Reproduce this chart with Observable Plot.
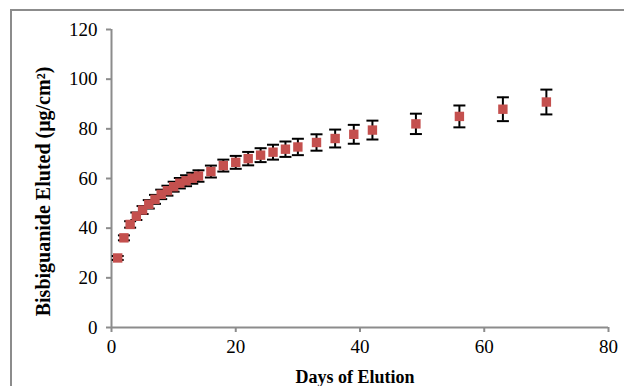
<!DOCTYPE html>
<html>
<head>
<meta charset="utf-8">
<script src="https://cdn.jsdelivr.net/npm/d3@7"></script>
<script src="https://cdn.jsdelivr.net/npm/@observablehq/plot@0.6"></script>
<style>
  html, body { margin: 0; padding: 0; background: #fff; }
  #wrap { position: relative; width: 624px; height: 386px; overflow: hidden; }
  #border { position: absolute; left: 10px; top: 9px; width: 640px; height: 400px;
            border-top: 2px solid #8c8c8c; border-left: 2px solid #8c8c8c; box-sizing: border-box; }
  #chart { position: absolute; left: 0; top: 0; }
</style>
</head>
<body>
<div id="wrap"><div id="border"></div><div id="chart"></div></div>
<script>
const days   = [1,2,3,4,5,6,7,8,9,10,11,12,13,14,16,18,20,22,24,26,28,30,33,36,39,42,49,56,63,70];
const eluted = [28.0,36.1,41.5,44.8,47.3,49.6,51.6,53.6,55.1,56.7,58.1,59.1,60.1,61.0,62.8,65.2,66.5,68.0,69.4,70.6,71.8,72.7,74.5,76.1,77.8,79.5,82.0,85.0,87.9,90.8];
const errors = [0.8,1.0,1.3,1.5,1.6,1.7,1.8,1.9,2.0,2.0,2.1,2.2,2.2,2.3,2.4,2.4,2.6,2.7,2.8,3.0,3.1,3.3,3.3,3.6,3.8,3.8,4.1,4.4,4.8,5.0];
const xTicks = [0,20,40,60,80];
const yTicks = [0,20,40,60,80,100,120];
const xTitle = "Days of Elution";
const yTitle = "Bisbiguanide Eluted (μg/cm²)";

const data = days.map((d, i) => ({day: d, value: eluted[i], err: errors[i]}));

const cap = {
  draw(ctx, size) {
    const r = Math.sqrt(size / Math.PI);
    ctx.moveTo(-r, 0);
    ctx.lineTo(r, 0);
  }
};

const font = "'Liberation Serif', 'Times New Roman', serif";
const axisGrey = "#8c8c8c";

const chart = Plot.plot({
  width: 624,
  height: 386,
  marginLeft: 111,
  marginRight: 16,
  marginTop: 29,
  marginBottom: 59,
  style: {fontFamily: font, fontSize: "19px", color: "#000", background: "transparent"},
  x: {domain: [0, 80]},
  y: {domain: [0, 120]},
  marks: [
    Plot.axisX({ticks: xTicks, tickSize: 5, tickPadding: 7, label: null, stroke: axisGrey, strokeWidth: 2, fill: "#000", fontSize: 19}),
    Plot.axisY({ticks: yTicks, tickSize: 5, tickPadding: 9, label: null, stroke: axisGrey, strokeWidth: 2, fill: "#000", fontSize: 19}),
    Plot.ruleY([0], {stroke: axisGrey, strokeWidth: 2}),
    Plot.ruleX([0], {stroke: axisGrey, strokeWidth: 2}),
    Plot.ruleX(data, {x: "day", y1: d => d.value - d.err, y2: d => d.value + d.err, stroke: "#000", strokeWidth: 2}),
    Plot.dot(data, {x: "day", y: d => d.value + d.err, symbol: cap, r: 6, stroke: "#000", strokeWidth: 2, fill: "none"}),
    Plot.dot(data, {x: "day", y: d => d.value - d.err, symbol: cap, r: 6, stroke: "#000", strokeWidth: 2, fill: "none"}),
    Plot.dot(data, {x: "day", y: "value", symbol: "square", r: 5.3, fill: "#C4504E", stroke: "none"}),
    Plot.text([yTitle], {text: d => d, frameAnchor: "left", textAnchor: "middle", lineAnchor: "middle", rotate: -90, dx: -68, dy: 13, fontWeight: "bold", fontSize: 20, fill: "#000"}),
    Plot.text([xTitle], {text: d => d, frameAnchor: "bottom", textAnchor: "middle", lineAnchor: "middle", dx: -5, dy: 50, fontWeight: "bold", fontSize: 18, fill: "#000"})
  ]
});
document.getElementById("chart").appendChild(chart);
</script>
</body>
</html>
